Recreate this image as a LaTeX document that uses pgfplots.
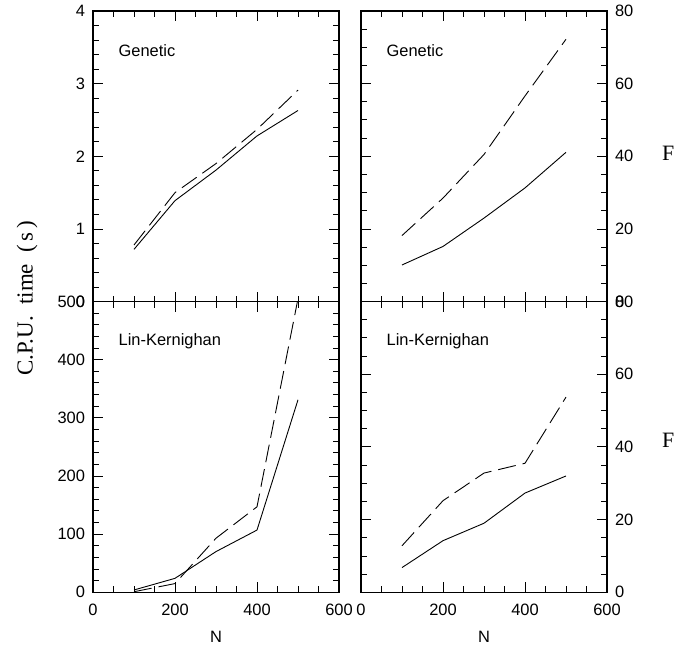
\documentclass[border=0pt]{standalone}
\usepackage{pgfplots}
\pgfplotsset{compat=1.18}
\usepackage{fontspec}
\setmainfont{Liberation Sans}
\newfontfamily\labelserif{Liberation Serif}

\tikzset{tag/.style={anchor=west, font=\fontsize{16.5}{18}\selectfont}}

\pgfplotsset{
  panel/.style={
    scale only axis,
    width=246bp, height=290.8bp,
    xmin=0, xmax=600,
    xtick={0,200,400,600}, minor x tick num=3,
    tick align=inside, tick pos=both,
    major tick length=10bp, minor tick length=6bp,
    axis line style={line width=1.4bp},
    every tick/.style={black, line width=0.9bp},
    tick label style={font=\fontsize{16.5}{18}\selectfont},
    xticklabel style={yshift=-8bp},
    /pgf/number format/assume math mode=true,
    xlabel style={font=\fontsize{16.5}{18}\selectfont, at={(rel axis cs:0.5,0)}, anchor=center, yshift=-44.7bp},
  },
  leftpanel/.style={panel, yticklabel style={xshift=-4.5bp}},
  rightpanel/.style={panel, yticklabel pos=right, yticklabel style={xshift=4.5bp}},
  solidline/.style={black, line width=0.9bp, no markers},
  dashline/.style={black, line width=0.9bp, no markers, dash pattern=on 18bp off 7bp},
}

\begin{document}
\begin{tikzpicture}
\path[use as bounding box] (0,0) rectangle (674bp,646bp);

% top left: Genetic, CPU time
\begin{axis}[leftpanel, at={(93bp,344.3bp)}, anchor=south west,
  ymin=0, ymax=4, ytick={0,1,2,3,4}, minor y tick num=4, xticklabel=\empty]
  \addplot[solidline] coordinates {(100,0.72) (200,1.39) (300,1.81) (400,2.28) (500,2.63)};
  \addplot[dashline] coordinates {(100,0.78) (200,1.50) (300,1.90) (400,2.37) (500,2.91)};
  \node[tag] at (rel axis cs:0.09,0.865) {Genetic};
\end{axis}

% top right: Genetic
\begin{axis}[rightpanel, at={(361bp,344.3bp)}, anchor=south west,
  ymin=0, ymax=80, ytick={0,20,40,60,80}, minor y tick num=3, xticklabel=\empty]
  \addplot[solidline] coordinates {(100,10.1) (200,15.2) (300,23.0) (400,31.3) (500,41.1)};
  \addplot[dashline] coordinates {(100,18.2) (200,28.5) (300,40.5) (400,56.6) (500,72.2)};
  \node[tag] at (rel axis cs:0.09,0.865) {Genetic};
\end{axis}

% bottom left: Lin-Kernighan, CPU time
\begin{axis}[leftpanel, at={(93bp,53.7bp)}, anchor=south west,
  ymin=0, ymax=500, ytick={0,100,200,300,400,500}, minor y tick num=4,
  xlabel={N}]
  \addplot[solidline] coordinates {(100,4) (200,24) (300,70) (400,107) (500,331)};
  \addplot[dashline] coordinates {(100,1) (200,15) (300,93) (400,147) (500,505)};
  \node[tag] at (rel axis cs:0.09,0.862) {Lin-Kernighan};
\end{axis}

% bottom right: Lin-Kernighan
\begin{axis}[rightpanel, at={(361bp,53.7bp)}, anchor=south west,
  ymin=0, ymax=80, ytick={0,20,40,60,80}, minor y tick num=3, xlabel={N}]
  \addplot[solidline] coordinates {(100,6.8) (200,14.2) (300,19.0) (400,27.3) (500,32.0)};
  \addplot[dashline] coordinates {(100,12.8) (200,25.2) (300,32.8) (400,35.5) (500,53.7)};
  \node[tag] at (rel axis cs:0.09,0.862) {Lin-Kernighan};
\end{axis}

\node[rotate=90, font=\labelserif\fontsize{23}{25}\selectfont] at (27bp,348bp) {C.P.U.~~time~~(\,s\,)};
\node[anchor=west, inner sep=0pt, font=\labelserif\fontsize{22}{24}\selectfont] at (662bp,493bp) {F};
\node[anchor=west, inner sep=0pt, font=\labelserif\fontsize{22}{24}\selectfont] at (662bp,206bp) {F};
\end{tikzpicture}
\end{document}
